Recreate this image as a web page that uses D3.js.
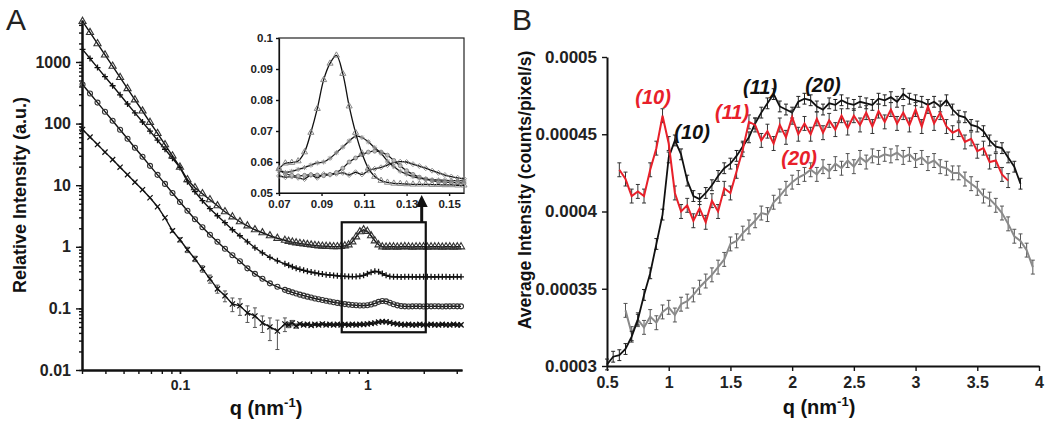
<!DOCTYPE html>
<html>
<head>
<meta charset="utf-8">
<title>SAXS profiles</title>
<style>
  body { margin: 0; background: #fff; }
  text { font-family: "Liberation Sans", Arial, sans-serif; }
</style>
</head>
<body>
<script src="https://d3js.org/d3.v7.min.js"></script>
<script>
// ---------- panel A : relative intensity, log-log ----------
var qA = [0.0302,0.0331,0.0363,0.0398,0.0437,0.0479,0.0525,0.0575,0.0631,0.0692,0.0759,0.0832,0.0912,0.1,0.1096,0.1202,0.1318,0.1445,0.1585,0.1738,0.1905,0.2089,0.2291,0.2512,0.2754,0.302,0.3311,0.3631,
  0.3802,0.3981,0.4169,0.4365,0.4571,0.4786,0.5012,0.5248,0.5495,0.5754,0.6026,0.631,0.6607,0.6918,0.7244,0.7586,0.7943,0.8318,0.871,0.912,0.955,1.0,1.047,1.0965,1.148,1.202,1.259,1.318,1.38,1.445,1.514,1.585,1.66,1.738,1.82,1.905,1.995,2.089,2.188,2.291,2.399,2.512,2.63,2.754,2.884,3.02,3.162];
var triA = [4570,3010,1980,1300,855,562,370,243,160,105,69.2,45.5,29.9,19.7,
  12.3,9.1,7.27,5.81,4.64,3.71,3.07,2.55,2.19,1.89,1.69,1.51,1.375,1.276,
  1.228,1.192,1.161,1.136,1.11,1.09,1.069,1.054,1.038,1.026,1.019,1.011,1.007,1.007,1.019,1.038,1.078,1.206,1.454,1.754,1.89,
  1.786,1.51,1.252,1.078,1.0,
  0.99,1.0,1.0,0.99,1.0,1.01,1.0,0.99,1.0,1.0,1.0,0.99,1.0,1.0,1.0,0.99,1.0,1.0,0.99,1.0,1.0];
var plusA = [1600,1140,810,577,411,293,208,149,106,75.4,53.7,38.3,27.3,19.4,
  11.4,7.84,5.6,4.15,3.19,2.46,1.89,1.51,1.206,0.963,0.799,0.675,0.592,0.529,
  0.5,0.473,0.45,0.431,0.415,0.4,0.388,0.378,0.368,0.36,0.353,0.348,0.343,0.338,0.334,0.331,0.329,0.328,0.329,0.334,0.344,
  0.364,0.385,0.4,0.392,0.367,0.344,0.33,
  0.325,0.326,0.324,0.325,0.326,0.325,0.324,0.325,0.326,0.325,0.325,0.324,0.325,0.326,0.325,0.324,0.325,0.325,0.326];
var circA = [431,307,219,156,111,79.6,56.8,40.5,28.9,20.6,14.7,10.5,7.47,5.33,
  3.85,2.8,2.08,1.567,1.206,0.928,0.727,0.581,0.447,0.364,0.302,0.255,0.224,0.2,
  0.1905,0.182,0.174,0.167,0.161,0.155,0.15,0.145,0.1407,0.1365,0.133,0.1295,0.126,0.1228,0.12,0.1175,0.1153,0.1135,0.1122,0.1114,0.1114,
  0.1127,0.1157,0.1205,0.1276,0.1315,0.13,0.1238,0.117,0.112,0.109,
  0.108,0.1075,0.108,0.1085,0.108,0.1075,0.108,0.108,0.1085,0.108,0.1075,0.108,0.108,0.1085,0.108,0.108];
var crossA = [80,60.3,45.6,34.4,26,19.6,14.8,11.2,8.45,6.26,4.47,2.96,1.82,1.3,
  0.894,0.638,0.439,0.302,0.2075,0.16,0.118,0.11,0.0845,0.0755,0.058,0.05,0.043,0.056,
  0.054,0.058,0.0519,0.056,0.054,0.055,0.053,0.055,0.054,0.056,0.054,0.055,0.054,0.055,0.054,0.055,0.054,0.055,0.054,0.055,0.055,
  0.056,0.057,0.058,0.06,0.061,0.0605,0.059,0.057,0.056,0.055,
  0.054,0.055,0.054,0.054,0.055,0.054,0.054,0.055,0.054,0.054,0.055,0.054,0.054,0.055,0.054,0.054];
// relative error of the lowest curve
var crossErrA = [0,0,0,0,0,0,0,0,0,0,0,0,
  0.06,0.08,0.1,0.1,0.12,0.15,0.15,0.2,0.25,0.3,0.3,0.35,0.3,0.4,0.5,0.25,
  0.1,0.1,0.08,
  0.04,0.04,0.04,0.04,0.04,0.04,0.04,0.04,0.04,0.04,0.04,0.04,0.04,0.04,0.04,0.04,0.04,0.04,0.04,0.04,0.04,0.04,
  0.04,0.04,0.04,0.04,0.04,0.04,0.04,0.04,0.04,0.04,0.04,0.04,0.04,0.04,0.04,0.04,0.04,0.04,0.04,0.04,0.04,0.04];
var yTicksA = [0.01, 0.1, 1, 10, 100, 1000];
var xTicksA = [0.1, 1];

// inset (peak region)
var qIn = [0.070,0.073,0.076,0.079,0.082,0.085,0.088,0.091,0.094,0.097,0.100,0.103,0.106,0.109,0.112,0.115,0.118,0.121,0.124,0.127,0.130,0.133,0.136,0.139,0.142,0.145,0.148,0.151,0.154,0.157];
var triIn = [0.0578,0.0596,0.0598,0.0603,0.0632,0.0695,0.0772,0.0865,0.0918,0.0944,0.0885,0.078,0.0695,0.0628,0.058,0.0553,0.054,0.0534,0.0531,0.053,0.0529,0.0528,0.0528,0.0528,0.0527,0.0527,0.0526,0.0526,0.0525,0.0525];
var plusIn = [0.0572,0.0566,0.057,0.0576,0.0582,0.059,0.0597,0.06,0.0612,0.063,0.0648,0.0668,0.0683,0.0679,0.0665,0.0646,0.0628,0.0603,0.0585,0.057,0.0561,0.0553,0.0548,0.0545,0.0543,0.0542,0.0541,0.054,0.054,0.0539];
var circIn = [0.0578,0.0562,0.0557,0.0555,0.0557,0.0559,0.0558,0.0556,0.056,0.0566,0.058,0.06,0.0613,0.0624,0.0632,0.0635,0.0632,0.0622,0.0605,0.0588,0.0572,0.056,0.0551,0.0545,0.054,0.0537,0.0535,0.0534,0.0533,0.0532];
var crossIn = [0.0555,0.0551,0.0553,0.0549,0.0545,0.0558,0.0549,0.0561,0.0559,0.0562,0.0565,0.0558,0.0567,0.056,0.0572,0.0578,0.0583,0.059,0.0598,0.0601,0.06,0.0593,0.0587,0.058,0.0572,0.0565,0.0558,0.0553,0.0549,0.0546];
var yTicksIn = [0.05, 0.06, 0.07, 0.08, 0.09, 0.1];
var xTicksIn = [0.07, 0.09, 0.11, 0.13, 0.15];

// ---------- panel B : average intensity (x 1e-4 counts/pixel/s) ----------
var qB = [0.50,0.55,0.60,0.65,0.70,0.75,0.80,0.85,0.90,0.95,1.00,1.05,1.10,1.15,1.20,1.25,1.30,1.35,1.40,1.45,1.50,1.55,1.60,1.65,1.70,1.75,1.80,1.85,1.90,1.95,
  2.00,2.05,2.10,2.15,2.20,2.25,2.30,2.35,2.40,2.45,2.50,2.55,2.60,2.65,2.70,2.75,2.80,2.85,2.90,2.95,3.00,3.05,3.10,3.15,3.20,3.25,3.30,3.35,3.40,3.45,
  3.50,3.55,3.60,3.65,3.70,3.75,3.80,3.85,3.90,3.95];
var redB = [null,null,4.27,4.21,4.10,4.13,4.10,4.27,4.41,4.62,4.44,4.12,4.00,4.04,3.94,4.02,3.93,4.07,4.00,4.15,4.12,4.26,4.40,4.58,4.56,4.46,4.52,4.44,4.56,4.48,
  4.61,4.50,4.57,4.50,4.60,4.51,4.59,4.53,4.62,4.54,4.62,4.56,4.64,4.55,4.65,4.58,4.66,4.57,4.64,4.56,4.66,4.55,4.68,4.57,4.64,4.55,4.51,4.53,4.45,4.47,
  4.39,4.41,4.32,4.33,4.24,4.20,null,null,null,null];
var blackB = [3.01,3.06,3.07,3.11,3.19,3.30,3.46,3.60,3.79,3.98,4.35,4.46,4.37,4.20,4.10,4.08,4.12,4.17,4.23,4.28,4.31,4.36,4.42,4.48,4.57,4.64,4.70,4.76,4.68,4.66,
  4.64,4.71,4.73,4.72,4.68,4.66,4.70,4.69,4.72,4.70,4.69,4.71,4.70,4.69,4.73,4.72,4.74,4.71,4.76,4.73,4.72,4.71,4.69,4.71,4.68,4.72,4.66,4.62,4.61,4.56,
  4.55,4.52,4.46,4.42,4.41,4.35,4.29,4.18,null,null];
var grayB = [null,null,null,3.36,3.21,3.30,3.25,3.32,3.28,3.35,3.38,3.33,3.40,3.42,3.46,3.51,3.55,3.59,3.64,3.69,3.79,3.81,3.86,3.90,3.94,3.99,3.98,4.06,4.10,4.15,
  4.19,4.22,4.24,4.27,4.24,4.29,4.26,4.31,4.28,4.33,4.29,4.35,4.32,4.36,4.35,4.37,4.36,4.38,4.35,4.37,4.33,4.35,4.31,4.33,4.29,4.28,4.25,4.25,4.21,4.18,
  4.15,4.10,4.08,4.04,3.99,3.92,3.84,3.81,3.75,3.64];
var errRed = 0.045, errBlack = 0.035, errGray = 0.045;
var yTicksB = [0.0003, 0.00035, 0.0004, 0.00045, 0.0005];
var xTicksB = [0.5, 1, 1.5, 2, 2.5, 3, 3.5, 4];

var FONT = "'Liberation Sans', Arial, sans-serif";

var svg = d3.select("body").append("svg")
  .attr("width", 1050).attr("height", 426)
  .style("background", "#fff");

function styleAxis(g, size, lw) {
  g.attr("font-family", null).attr("font-size", null);
  g.select(".domain").attr("stroke-width", lw || 2).attr("stroke", "#111");
  g.selectAll(".tick line").attr("stroke-width", 1.4).attr("stroke", "#111");
  g.selectAll(".tick text")
    .style("font", "bold " + size + "px " + FONT)
    .attr("fill", "#222");
}

function qTitle(x, y) {
  var t = svg.append("text").attr("x", x).attr("y", y)
    .attr("text-anchor", "middle")
    .style("font", "bold 20px " + FONT).attr("fill", "#111");
  t.append("tspan").text("q (nm");
  t.append("tspan").attr("dy", -8).style("font-size", "13px").text("-1");
  t.append("tspan").attr("dy", 8).text(")");
}

// ================= PANEL A =================
var xA = d3.scaleLog().domain([0.03, 3.2]).range([82, 462]);
var yA = d3.scaleLog().domain([0.01, 4800]).range([370, 20]);

var gA = svg.append("g");

// minor ticks, then labelled decades
gA.append("g").attr("transform", "translate(82,0)")
  .call(d3.axisLeft(yA).tickValues(yA.ticks()).tickFormat("").tickSize(3).tickSizeOuter(0))
  .call(styleAxis, 16);
gA.append("g").attr("transform", "translate(82,0)")
  .call(d3.axisLeft(yA).tickValues(yTicksA).tickFormat(function(d) { return String(d); }).tickSize(6).tickSizeOuter(0).tickPadding(5))
  .call(styleAxis, 16);
gA.append("g").attr("transform", "translate(0,370)")
  .call(d3.axisBottom(xA).tickValues(xA.ticks()).tickFormat("").tickSize(4).tickSizeOuter(0))
  .call(styleAxis, 14);
gA.append("g").attr("transform", "translate(0,370)")
  .call(d3.axisBottom(xA).tickValues(xTicksA).tickFormat(function(d) { return String(d); }).tickSize(4).tickSizeOuter(0).tickPadding(6))
  .call(styleAxis, 14);

var markers = {
  tri: function(s) { s.append("path").attr("d", d3.symbol(d3.symbolTriangle, 22)()).attr("fill", "none").attr("stroke", "#333").attr("stroke-width", 1.1); },
  plus: function(s) { s.append("path").attr("d", "M-3,0H3M0,-3V3").attr("stroke", "#111").attr("stroke-width", 1.3); },
  circ: function(s) { s.append("circle").attr("r", 2.5).attr("fill", "none").attr("stroke", "#333").attr("stroke-width", 1.1); },
  cross: function(s) { s.append("path").attr("d", "M-2.6,-2.6L2.6,2.6M-2.6,2.6L2.6,-2.6").attr("stroke", "#111").attr("stroke-width", 1.2); }
};

function drawSeries(g, xs, vals, sx, sy, kind, lw) {
  var pts = xs.map(function(q, i) { return [q, vals[i]]; });
  var line = d3.line().x(function(d) { return sx(d[0]); }).y(function(d) { return sy(d[1]); });
  g.append("path").datum(pts).attr("d", line)
    .attr("fill", "none").attr("stroke", "#111").attr("stroke-width", lw);
  var m = g.selectAll(null).data(pts).enter().append("g")
    .attr("transform", function(d) { return "translate(" + sx(d[0]) + "," + sy(d[1]) + ")"; });
  markers[kind](m);
}

// error bars of the lowest curve
var errPts = qA.map(function(q, i) { return [q, crossA[i], crossErrA[i]]; })
  .filter(function(d) { return d[2] > 0; });
gA.selectAll(null).data(errPts).enter().append("path")
  .attr("d", function(d) {
    var x = xA(d[0]), y0 = yA(d[1] * (1 - d[2])), y1 = yA(d[1] * (1 + d[2]));
    return "M" + x + "," + y0 + "V" + y1 + "M" + (x - 2) + "," + y0 + "H" + (x + 2) + "M" + (x - 2) + "," + y1 + "H" + (x + 2);
  })
  .attr("stroke", "#555").attr("stroke-width", 1).attr("fill", "none");

drawSeries(gA, qA, crossA, xA, yA, "cross", 1.4);
drawSeries(gA, qA, circA, xA, yA, "circ", 1.4);
drawSeries(gA, qA, plusA, xA, yA, "plus", 1.4);
drawSeries(gA, qA, triA, xA, yA, "tri", 1.4);

// zoom box
var boxQ = [0.73, 2.05], boxI = [0.041, 2.5];
gA.append("rect")
  .attr("x", xA(boxQ[0])).attr("y", yA(boxI[1]))
  .attr("width", xA(boxQ[1]) - xA(boxQ[0])).attr("height", yA(boxI[0]) - yA(boxI[1]))
  .attr("fill", "none").attr("stroke", "#111").attr("stroke-width", 2.2);

// inset
var xIn = d3.scaleLinear().domain([0.07, 0.157]).range([279, 464]);
var yIn = d3.scaleLinear().domain([0.05, 0.1]).range([193, 38]);
var gIn = svg.append("g");
gIn.append("rect").attr("x", xIn(0.07)).attr("y", yIn(0.1))
  .attr("width", xIn(0.157) - xIn(0.07)).attr("height", yIn(0.05) - yIn(0.1))
  .attr("fill", "#fff").attr("stroke", "#222").attr("stroke-width", 1.2);
gIn.append("g").attr("transform", "translate(" + xIn(0.07) + ",0)")
  .call(d3.axisLeft(yIn).tickValues(yTicksIn).tickFormat(function(d) { return String(+d.toFixed(2)); }).tickSize(3).tickSizeOuter(0).tickPadding(3))
  .call(styleAxis, 11.5, 1.2);
gIn.append("g").attr("transform", "translate(0," + yIn(0.05) + ")")
  .call(d3.axisBottom(xIn).tickValues(xTicksIn).tickFormat(function(d) { return String(+d.toFixed(2)); }).tickSize(3).tickSizeOuter(0).tickPadding(4))
  .call(styleAxis, 11.5, 1.2);

var mkIn = {
  tri: function(s) { s.append("path").attr("d", d3.symbol(d3.symbolTriangle, 16)()).attr("fill", "none").attr("stroke", "#888").attr("stroke-width", 1); },
  plus: function(s) { s.append("path").attr("d", "M-2.5,0H2.5M0,-2.5V2.5M-1.8,-1.8L1.8,1.8M-1.8,1.8L1.8,-1.8").attr("stroke", "#888").attr("stroke-width", 0.9); },
  circ: function(s) { s.append("circle").attr("r", 2).attr("fill", "#bbb").attr("stroke", "#777").attr("stroke-width", 0.8); },
  cross: function(s) { s.append("path").attr("d", "M0,-2.5L2.5,0L0,2.5L-2.5,0Z").attr("fill", "none").attr("stroke", "#888").attr("stroke-width", 0.9); }
};
[[crossIn, "cross"], [circIn, "circ"], [plusIn, "plus"], [triIn, "tri"]].forEach(function(s) {
  var pts = qIn.map(function(q, i) { return [q, s[0][i]]; });
  gIn.append("path").datum(pts)
    .attr("d", d3.line().curve(d3.curveCatmullRom).x(function(d) { return xIn(d[0]); }).y(function(d) { return yIn(d[1]); }))
    .attr("fill", "none").attr("stroke", "#111").attr("stroke-width", 1.3);
  var m = gIn.selectAll(null).data(pts).enter().append("g")
    .attr("transform", function(d) { return "translate(" + xIn(d[0]) + "," + yIn(d[1]) + ")"; });
  mkIn[s[1]](m);
});

// arrow from the box up to the inset
var arX = xA(1.95), arY0 = yA(boxI[1]), arY1 = yIn(0.05) + 2;
gA.append("line").attr("x1", arX).attr("x2", arX).attr("y1", arY0).attr("y2", arY1 + 10)
  .attr("stroke", "#111").attr("stroke-width", 3);
gA.append("path").attr("d", "M" + arX + "," + arY1 + "L" + (arX - 6) + "," + (arY1 + 12) + "L" + (arX + 6) + "," + (arY1 + 12) + "Z")
  .attr("fill", "#111");

// titles
svg.append("text").attr("x", 6).attr("y", 30).style("font", "30px " + FONT).attr("fill", "#222").text("A");
svg.append("text").attr("transform", "translate(26,195) rotate(-90)").attr("text-anchor", "middle")
  .style("font", "bold 18px " + FONT).attr("fill", "#111").text("Relative Intensity (a.u.)");
qTitle(266, 415);

// ================= PANEL B =================
var xB = d3.scaleLinear().domain([0.5, 4]).range([607, 1039]);
var yB = d3.scaleLinear().domain([0.0003, 0.0005]).range([366, 57]);
var gB = svg.append("g");

gB.append("g").attr("transform", "translate(607,0)")
  .call(d3.axisLeft(yB).tickValues(yTicksB).tickFormat(function(d) { return String(d); }).tickSize(5).tickSizeOuter(0).tickPadding(5))
  .call(styleAxis, 17);
gB.append("g").attr("transform", "translate(0,366)")
  .call(d3.axisBottom(xB).tickValues(xTicksB).tickFormat(function(d) { return String(d); }).tickSize(5).tickSizeOuter(0).tickPadding(6))
  .call(styleAxis, 16);

function drawB(vals, color, barColor, err, lw) {
  var pts = qB.map(function(q, i) { return [q, vals[i]]; })
    .filter(function(d) { return d[1] != null; });
  gB.selectAll(null).data(pts).enter().append("path")
    .attr("d", function(d) {
      var x = xB(d[0]), y0 = yB((d[1] - err) * 1e-4), y1 = yB((d[1] + err) * 1e-4);
      return "M" + x + "," + y0 + "V" + y1 + "M" + (x - 2) + "," + y0 + "H" + (x + 2) + "M" + (x - 2) + "," + y1 + "H" + (x + 2);
    })
    .attr("stroke", barColor).attr("stroke-width", 1).attr("fill", "none");
  gB.append("path").datum(pts)
    .attr("d", d3.line().x(function(d) { return xB(d[0]); }).y(function(d) { return yB(d[1] * 1e-4); }))
    .attr("fill", "none").attr("stroke", color).attr("stroke-width", lw);
}
drawB(grayB, "#8a8a8a", "#555", errGray, 2);
drawB(blackB, "#111", "#222", errBlack, 1.8);
drawB(redB, "#e8202a", "#333", errRed, 2);

// Miller index labels
var peakLabels = [
  { t: "(10)", q: 0.873, v: 4.696, c: "#e8202a" },
  { t: "(10)", q: 1.189, v: 4.469, c: "#111" },
  { t: "(11)", q: 1.513, v: 4.599, c: "#e8202a" },
  { t: "(11)", q: 1.74, v: 4.76, c: "#111" },
  { t: "(20)", q: 2.25, v: 4.773, c: "#111" },
  { t: "(20)", q: 2.056, v: 4.301, c: "#e8202a" }
];
gB.selectAll(null).data(peakLabels).enter().append("text")
  .attr("x", function(d) { return xB(d.q); })
  .attr("y", function(d) { return yB(d.v * 1e-4); })
  .attr("text-anchor", "middle")
  .style("font", "italic bold 20px " + FONT)
  .attr("fill", function(d) { return d.c; })
  .text(function(d) { return d.t; });

svg.append("text").attr("x", 512).attr("y", 30).style("font", "30px " + FONT).attr("fill", "#222").text("B");
svg.append("text").attr("transform", "translate(531,190) rotate(-90)").attr("text-anchor", "middle")
  .style("font", "bold 17.5px " + FONT).attr("fill", "#111").text("Average Intensity (counts/pixel/s)");
qTitle(819, 414);
</script>
</body>
</html>
